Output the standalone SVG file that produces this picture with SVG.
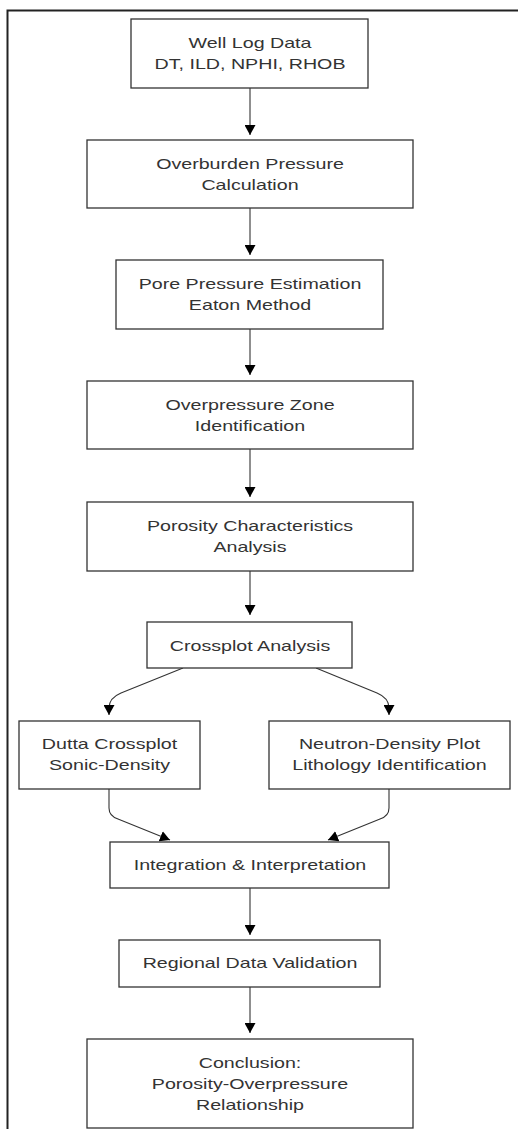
<svg xmlns="http://www.w3.org/2000/svg" width="518" height="1129" viewBox="0 0 518 1129">
<style>
.bg{fill:#ffffff}
.frame{fill:none;stroke:#222;stroke-width:2}
.box{fill:#ffffff;stroke:#333;stroke-width:1.3}
.lbl{font-family:"Liberation Sans",Arial,sans-serif;font-size:15px;fill:#333;text-anchor:middle}
.edge{fill:none;stroke:#333;stroke-width:1.1}
</style>
<defs>
<marker id="ah" viewBox="0 0 10 10" refX="10" refY="5" markerWidth="10" markerHeight="11" markerUnits="userSpaceOnUse" orient="auto" preserveAspectRatio="none">
<path d="M0,0 L10,5 L0,10 z" fill="#000"/>
</marker>
</defs>
<rect class="bg" x="0" y="0" width="518" height="1129"/>
<rect class="frame" x="7.5" y="10.5" width="600" height="1200"/>
<g id="connectors">
<path class="edge" d="M250,88 L250,135" marker-end="url(#ah)"/>
<path class="edge" d="M250,208 L250,255" marker-end="url(#ah)"/>
<path class="edge" d="M250,329 L250,375" marker-end="url(#ah)"/>
<path class="edge" d="M250,449 L250,497" marker-end="url(#ah)"/>
<path class="edge" d="M250,571 L250,615" marker-end="url(#ah)"/>
<path class="edge" d="M183,668 L121,693 Q109,698 109,708 L109,715" marker-end="url(#ah)"/>
<path class="edge" d="M316,668 L377,693 Q389,698 389,708 L389,715" marker-end="url(#ah)"/>
<path class="edge" d="M109,789 L109,808 Q109,816 118,819 L170,840" marker-end="url(#ah)"/>
<path class="edge" d="M389,789 L389,808 Q389,816 380,819 L328,840" marker-end="url(#ah)"/>
<path class="edge" d="M250,888 L250,935" marker-end="url(#ah)"/>
<path class="edge" d="M250,987 L250,1033" marker-end="url(#ah)"/>
</g>
<g id="n1"><rect class="box" x="131" y="19" width="237" height="69"/>
<text class="lbl" transform="matrix(1.31 0 0 1 250 48)">Well Log Data</text>
<text class="lbl" transform="matrix(1.31 0 0 1 250 69)">DT, ILD, NPHI, RHOB</text></g>
<g id="n2"><rect class="box" x="87" y="140" width="326" height="68"/>
<text class="lbl" transform="matrix(1.31 0 0 1 250 169)">Overburden Pressure</text>
<text class="lbl" transform="matrix(1.31 0 0 1 250 190)">Calculation</text></g>
<g id="n3"><rect class="box" x="116" y="260" width="267" height="69"/>
<text class="lbl" transform="matrix(1.31 0 0 1 250 289)">Pore Pressure Estimation</text>
<text class="lbl" transform="matrix(1.31 0 0 1 250 310)">Eaton Method</text></g>
<g id="n4"><rect class="box" x="87" y="381" width="326" height="68"/>
<text class="lbl" transform="matrix(1.31 0 0 1 250 410)">Overpressure Zone</text>
<text class="lbl" transform="matrix(1.31 0 0 1 250 431)">Identification</text></g>
<g id="n5"><rect class="box" x="87" y="502" width="326" height="69"/>
<text class="lbl" transform="matrix(1.31 0 0 1 250 531)">Porosity Characteristics</text>
<text class="lbl" transform="matrix(1.31 0 0 1 250 552)">Analysis</text></g>
<g id="n6"><rect class="box" x="147" y="622" width="205" height="46"/>
<text class="lbl" transform="matrix(1.31 0 0 1 250 651)">Crossplot Analysis</text></g>
<g id="n7"><rect class="box" x="19" y="721" width="181" height="68"/>
<text class="lbl" transform="matrix(1.31 0 0 1 109.5 749)">Dutta Crossplot</text>
<text class="lbl" transform="matrix(1.31 0 0 1 109.5 770)">Sonic-Density</text></g>
<g id="n8"><rect class="box" x="269" y="721" width="241" height="68"/>
<text class="lbl" transform="matrix(1.31 0 0 1 389.5 749)">Neutron-Density Plot</text>
<text class="lbl" transform="matrix(1.31 0 0 1 389.5 770)">Lithology Identification</text></g>
<g id="n9"><rect class="box" x="110" y="842" width="279" height="46"/>
<text class="lbl" transform="matrix(1.31 0 0 1 250 870)">Integration &amp; Interpretation</text></g>
<g id="n10"><rect class="box" x="119" y="940" width="261" height="47"/>
<text class="lbl" transform="matrix(1.31 0 0 1 250 968)">Regional Data Validation</text></g>
<g id="n11"><rect class="box" x="87" y="1039" width="326" height="89"/>
<text class="lbl" transform="matrix(1.31 0 0 1 250 1068)">Conclusion:</text>
<text class="lbl" transform="matrix(1.31 0 0 1 250 1089)">Porosity-Overpressure</text>
<text class="lbl" transform="matrix(1.31 0 0 1 250 1110)">Relationship</text></g>
</svg>
